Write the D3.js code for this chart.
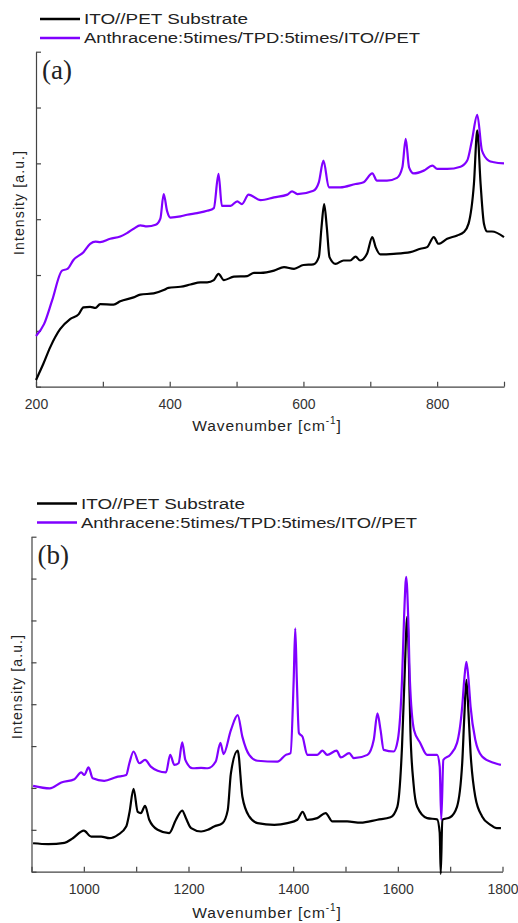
<!DOCTYPE html>
<html>
<head>
<meta charset="utf-8">
<script src="https://cdn.jsdelivr.net/npm/d3@7"></script>
<style>
  body { margin: 0; background: #fff; }
  svg text { fill: #222; }
  .tick text { font-family: "Liberation Sans", Arial, sans-serif; font-size: 14px; fill: #333; }
  .lbl { font-family: "Liberation Sans", Arial, sans-serif; font-size: 14px; }
  .xlbl { font-family: "Liberation Sans", Arial, sans-serif; font-size: 15.5px; letter-spacing: 0.9px; }
  .panel { font-family: "Liberation Serif", "DejaVu Serif", serif; font-size: 27px; }
</style>
</head>
<body>
<div id="chart"></div>
<script>
// series names
var seriesNames = ["ITO//PET Substrate", "Anthracene:5times/TPD:5times/ITO//PET"]
var colors = ["#000000", "#8000ff"]

// panel (a) 200-900 cm-1
var aTicks = [200, 300, 400, 500, 600, 700, 800, 900]
var aSubX = [200,211,221,236,251,264,271,281,289,296,316,326,346,356,376,391,398,416,431,446,456,466,473,481,496,516,526,536,556,571,586,600,615,623,627,631,635,639,648,660,670,678,685,695,703,708,715,735,760,775,785,795,802,815,830,840,847,855,860,865,870,875,882,900]
var aSubY = [0.12,0.41,0.70,1.03,1.21,1.30,1.42,1.43,1.41,1.48,1.47,1.53,1.60,1.65,1.67,1.73,1.77,1.79,1.83,1.87,1.87,1.91,2.02,1.91,1.97,1.98,2.04,2.04,2.08,2.14,2.11,2.18,2.19,2.32,2.85,3.27,2.85,2.32,2.20,2.26,2.26,2.33,2.26,2.38,2.68,2.50,2.37,2.38,2.41,2.47,2.50,2.68,2.56,2.65,2.71,2.77,2.92,3.63,4.59,3.63,2.92,2.78,2.78,2.68]
var aAntX = [200,212,224,239,247,256,271,281,289,296,311,326,336,346,356,366,379,386,391,396,401,416,426,441,456,466,473,478,491,501,508,518,536,556,576,583,591,615,623,630,638,655,678,690,703,710,725,740,748,753,758,765,780,793,800,815,835,845,852,860,867,877,885,900]
var aAntY = [0.91,1.12,1.54,2.08,2.11,2.27,2.41,2.56,2.60,2.59,2.65,2.69,2.75,2.83,2.89,2.87,2.90,3.01,3.45,3.15,3.03,3.05,3.08,3.11,3.15,3.20,3.81,3.24,3.24,3.32,3.27,3.44,3.34,3.39,3.44,3.50,3.45,3.51,3.66,4.05,3.57,3.57,3.63,3.66,3.82,3.69,3.69,3.74,3.93,4.44,3.93,3.82,3.87,3.96,3.90,3.90,3.94,4.05,4.41,4.87,4.23,4.05,4.02,4.00]

// panel (b) 900-1800 cm-1
var bTicks = [900, 1000, 1100, 1200, 1300, 1400, 1500, 1600, 1700, 1800]
var bSubX = [903,932,963,979,1000,1014,1033,1049,1065,1081,1087,1095,1103,1109,1117,1125,1141,1163,1176,1188,1195,1205,1224,1237,1249,1265,1275,1281,1294,1303,1316,1332,1364,1389,1408,1418,1427,1446,1462,1475,1503,1529,1561,1586,1599,1608,1613,1618,1621,1624,1630,1637,1656,1675,1680,1682,1685,1700,1713,1723,1727,1731,1735,1739,1748,1761,1777,1789,1797]
var bSubY = [0.68,0.66,0.69,0.80,0.98,0.84,0.84,0.80,0.88,1.08,1.40,1.98,1.43,1.40,1.57,1.24,1.00,0.92,1.24,1.46,1.28,1.04,0.96,1.00,1.08,1.16,1.47,2.35,2.89,1.79,1.32,1.16,1.12,1.16,1.24,1.43,1.24,1.28,1.40,1.20,1.20,1.17,1.24,1.30,1.55,2.99,4.70,6.09,5.10,3.38,2.10,1.55,1.28,1.25,0.93,-0.05,1.24,1.30,1.55,2.59,3.70,4.58,3.80,2.83,1.79,1.32,1.12,1.04,1.04]
var bAntX = [903,935,957,982,995,1001,1009,1017,1039,1062,1081,1087,1095,1106,1117,1128,1141,1157,1165,1173,1181,1188,1194,1208,1224,1237,1252,1261,1267,1281,1294,1303,1316,1332,1370,1386,1395,1401,1404,1407,1411,1418,1427,1446,1456,1465,1483,1491,1507,1516,1542,1554,1561,1567,1573,1592,1600,1608,1612,1616,1620,1623,1631,1643,1656,1675,1680,1683,1687,1700,1713,1723,1727,1731,1735,1739,1748,1761,1783,1797]
var bAntY = [2.05,1.99,2.13,2.21,2.37,2.31,2.49,2.23,2.17,2.26,2.31,2.59,2.87,2.59,2.67,2.51,2.41,2.37,2.79,2.55,2.59,3.09,2.67,2.47,2.48,2.47,2.63,3.08,2.81,3.38,3.74,3.22,2.79,2.65,2.63,2.79,2.83,4.58,5.81,4.58,3.31,3.22,2.79,2.79,2.89,2.79,2.89,2.73,2.83,2.71,2.79,3.15,3.78,3.38,2.91,2.87,3.15,4.58,6.10,7.04,6.00,4.58,3.38,3.07,2.79,2.79,2.51,1.24,2.67,2.79,3.07,3.94,4.60,5.01,4.60,3.94,3.15,2.75,2.60,2.55]

var svg = d3.select("#chart").append("svg")
  .attr("width", 518)
  .attr("height", 923)

function drawPanel(p) {
  var g = svg.append("g")
    .attr("transform", "translate(" + p.left + "," + p.top + ")")

  var x = d3.scaleLinear().domain(p.xDomain).range([0, p.width])
  var y = d3.scaleLinear().domain([0, p.yMax]).range([p.height, 0])

  // X axis, ticks pointing inward
  var xa = g.append("g")
    .attr("transform", "translate(0," + p.height + ")")
    .call(d3.axisBottom(x).tickValues(p.ticks).tickSizeInner(-5).tickSizeOuter(0).tickPadding(12)
      .tickFormat(function(d) { return d % 200 === 0 ? d : "" }))
  xa.selectAll("text").attr("dy", "0.71em")

  // Y axis, no labels
  g.append("g")
    .call(d3.axisLeft(y).tickValues(d3.range(0, p.yMax + 1)).tickSizeInner(-5).tickSizeOuter(0).tickFormat(""))

  g.selectAll(".domain, .tick line").attr("stroke", "#444").attr("stroke-width", 1.2)

  var line = d3.line()
    .x(function(d) { return x(d[0]) })
    .y(function(d) { return y(d[1]) })
    .curve(d3.curveMonotoneX)

  p.series.forEach(function(s, i) {
    var pts = d3.zip(s[0], s[1])
    g.append("path")
      .datum(pts)
      .attr("fill", "none")
      .attr("stroke", colors[i])
      .attr("stroke-width", 2.2)
      .attr("stroke-linejoin", "round")
      .attr("d", line)
  })

  // panel letter
  g.append("text")
    .attr("class", "panel")
    .attr("x", 6)
    .attr("y", 27)
    .text(p.letter)

  // axis titles
  g.append("text")
    .attr("class", "lbl")
    .attr("transform", "translate(" + (p.yLabelX - p.left) + "," + (p.yLabelY - p.top) + ") rotate(-90)")
    .attr("text-anchor", "middle")
    .attr("textLength", 104)
    .text("Intensity [a.u.]")

  var xl = g.append("text")
    .attr("class", "xlbl")
    .attr("x", 267 - p.left)
    .attr("y", p.height + p.xLabelDy)
    .attr("text-anchor", "middle")
  xl.append("tspan").text("Wavenumber [cm")
  xl.append("tspan").attr("dy", -7).attr("font-size", 10).text("-1")
  xl.append("tspan").attr("dy", 7).text("]")

  // legend above the panel
  seriesNames.forEach(function(name, i) {
    var ly = p.legendY + i * 19
    svg.append("line")
      .attr("x1", p.legendX).attr("x2", p.legendX + 40)
      .attr("y1", ly).attr("y2", ly)
      .attr("stroke", colors[i]).attr("stroke-width", 2.6)
    svg.append("text")
      .attr("class", "lbl")
      .attr("x", p.legendX + 44)
      .attr("y", ly + 5)
      .attr("textLength", i === 0 ? 164 : 336)
      .attr("lengthAdjust", "spacingAndGlyphs")
      .text(name)
  })
}

drawPanel({
  left: 36, top: 51.7, width: 468, height: 335, yMax: 6,
  xDomain: [200, 900], ticks: aTicks, letter: "(a)",
  series: [[aSubX, aSubY], [aAntX, aAntY]],
  legendX: 40, legendY: 19, yLabelX: 24, yLabelY: 203, xLabelDy: 44
})

drawPanel({
  left: 31.5, top: 536.7, width: 471, height: 335, yMax: 8,
  xDomain: [900, 1800], ticks: bTicks, letter: "(b)",
  series: [[bSubX, bSubY], [bAntX, bAntY]],
  legendX: 37, legendY: 503.5, yLabelX: 22, yLabelY: 687, xLabelDy: 46
})
</script>
</body>
</html>
